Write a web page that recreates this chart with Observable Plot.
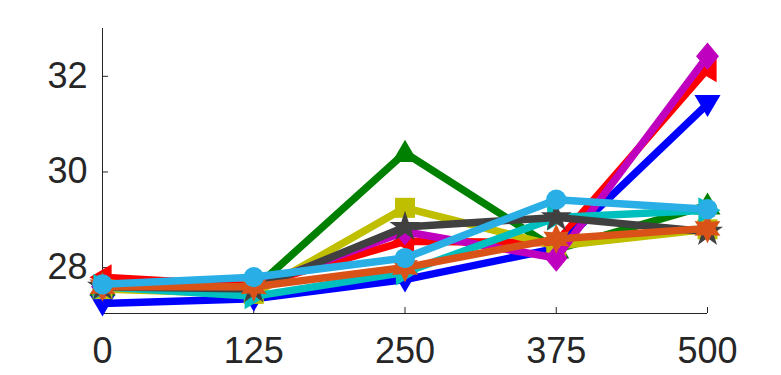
<!DOCTYPE html>
<html><head><meta charset="utf-8">
<script src="https://cdn.jsdelivr.net/npm/d3@7"></script>
<script src="https://cdn.jsdelivr.net/npm/@observablehq/plot@0.6"></script>
<style>body{margin:0;background:#fff}</style>
</head><body><div id="chart"></div>
<script>
const xValues = [0, 125, 250, 375, 500];
const xTicks = [0, 125, 250, 375, 500];
const yTicks = [28, 30, 32];
const yDomain = [27.04, 33];

const seriesColors = ["#ff0000", "#0000ff", "#008000", "#bfbf00", "#bf00bf", "#00bfbf", "#404040", "#d95319", "#2aaee6"];
const seriesMarkers = ["triangleLeft", "triangleDown", "triangleUp", "square", "diamond", "triangleRight", "pentagram", "hexagram", "circle"];

const redValues       = [27.80, 27.62, 28.55, 28.52, 32.15];
const blueValues      = [27.25, 27.35, 27.75, 28.40, 31.42];
const greenValues     = [27.60, 27.55, 30.40, 28.38, 29.30];
const yellowValues    = [27.55, 27.45, 29.25, 28.45, 28.80];
const magentaValues   = [27.60, 27.60, 28.75, 28.20, 32.42];
const cyanValues      = [27.60, 27.40, 27.90, 29.05, 29.20];
const grayValues      = [27.60, 27.55, 28.85, 29.05, 28.75];
const orangeValues    = [27.60, 27.60, 28.00, 28.60, 28.82];
const lightblueValues = [27.65, 27.80, 28.20, 29.42, 29.22];

const seriesValues = [redValues, blueValues, greenValues, yellowValues, magentaValues, cyanValues, grayValues, orangeValues, lightblueValues];

function poly(pts) {
  return {draw(ctx, size) {
    const r = Math.sqrt(size / Math.PI);
    ctx.moveTo(pts[0][0] * r, pts[0][1] * r);
    for (let i = 1; i < pts.length; i++) ctx.lineTo(pts[i][0] * r, pts[i][1] * r);
    ctx.closePath();
  }};
}
function starPts(n, outer, inner) {
  const pts = [];
  for (let i = 0; i < 2 * n; i++) {
    const a = -Math.PI / 2 + i * Math.PI / n;
    const rad = i % 2 ? inner : outer;
    pts.push([Math.cos(a) * rad, Math.sin(a) * rad]);
  }
  return pts;
}
const symbols = {
  triangleUp: poly([[0, -1], [1, 0.7], [-1, 0.7]]),
  triangleDown: poly([[0, 1], [1, -0.7], [-1, -0.7]]),
  triangleLeft: poly([[-1, 0], [0.7, -1], [0.7, 1]]),
  triangleRight: poly([[1, 0], [-0.7, -1], [-0.7, 1]]),
  square: poly([[-0.77, -0.77], [0.77, -0.77], [0.77, 0.77], [-0.77, 0.77]]),
  diamond: poly([[0, -1.05], [0.88, 0], [0, 1.05], [-0.88, 0]]),
  pentagram: poly(starPts(5, 1.25, 0.48)),
  hexagram: poly(starPts(6, 1.15, 0.6)),
  circle: {draw(ctx, size) { const r = Math.sqrt(size / Math.PI) * 0.78; ctx.moveTo(r, 0); ctx.arc(0, 0, r, 0, 2 * Math.PI); ctx.closePath(); }}
};

const marks = [
  Plot.ruleX([xValues[0]], {stroke: "#262626", strokeWidth: 1}),
  Plot.ruleY([yDomain[0]], {stroke: "#262626", strokeWidth: 1}),
  Plot.axisX(xTicks, {tickSize: -6, tickPadding: 30, fontSize: 36, label: null, stroke: "#262626", fill: "#262626"}),
  Plot.axisY(yTicks, {tickSize: -6, tickPadding: 21, fontSize: 36, label: null, stroke: "#262626", fill: "#262626"})
];
seriesValues.forEach((vals, i) => {
  const rows = xValues.map((x, j) => ({x, y: vals[j]}));
  marks.push(Plot.line(rows, {x: "x", y: "y", stroke: seriesColors[i], strokeWidth: 7.5, strokeLinejoin: "miter", strokeLinecap: "butt"}));
  marks.push(Plot.dot(rows, {x: "x", y: "y", symbol: symbols[seriesMarkers[i]], fill: seriesColors[i], stroke: "none", r: 13}));
});

const chart = Plot.plot({
  width: 781, height: 375,
  marginLeft: 102, marginRight: 74, marginTop: 28, marginBottom: 62,
  x: {domain: [0, 500]},
  y: {domain: yDomain},
  style: {fontFamily: "'Liberation Sans', Arial, sans-serif", color: "#262626", background: "white", overflow: "visible"},
  marks
});
document.getElementById("chart").appendChild(chart);
</script>
</body></html>
